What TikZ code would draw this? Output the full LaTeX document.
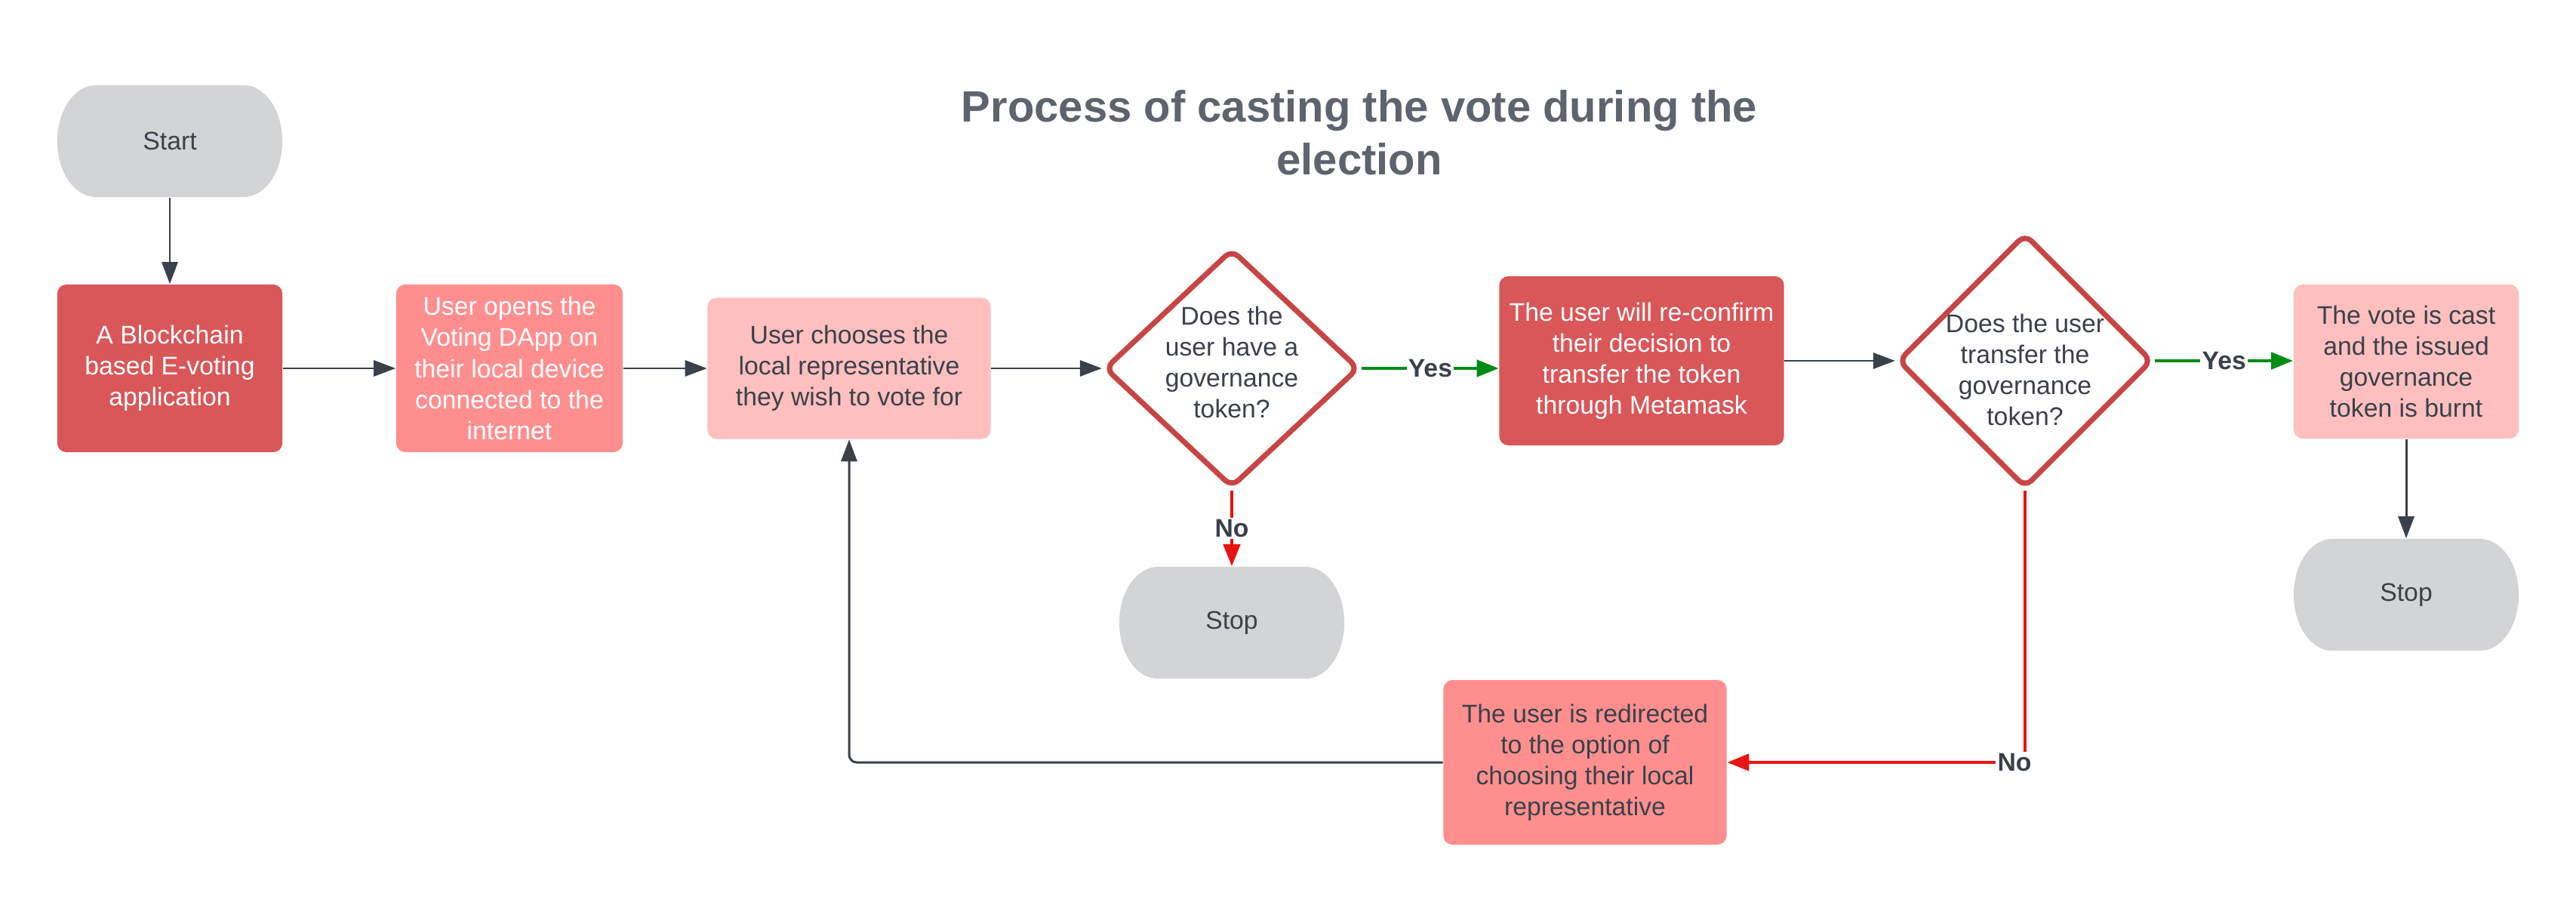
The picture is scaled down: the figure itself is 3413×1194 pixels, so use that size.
\documentclass[tikz,border=0pt]{standalone}
\usepackage{fontspec}
\setmainfont{Liberation Sans}
\usetikzlibrary{shapes.geometric,arrows.meta}
\definecolor{txtdark}{HTML}{3A414A}
\definecolor{titlecol}{HTML}{5E646E}
\definecolor{darkred}{HTML}{D95759}
\definecolor{salmon}{HTML}{FF8F8F}
\definecolor{pink}{HTML}{FFBFBF}
\definecolor{termgray}{HTML}{D3D4D6}
\definecolor{diaborder}{HTML}{C84545}
\definecolor{redline}{HTML}{E81414}
\definecolor{greenline}{HTML}{008C14}
\newcommand\diagfont{\fontsize{9.6pt}{11.7pt}\selectfont}
\begin{document}
\begin{tikzpicture}[x=0.01cm,y=-0.01cm,
  every node/.style={font=\diagfont, align=center, inner sep=0pt},
  term/.style={rectangle, minimum width=2.98cm, minimum height=1.48cm, text=txtdark,
    path picture={\fill[termgray] ([xshift=0.51cm]path picture bounding box.north west)
      -- ([xshift=-0.51cm]path picture bounding box.north east)
      arc[start angle=90,end angle=-90,x radius=0.51cm,y radius=0.74cm]
      -- ([xshift=0.51cm]path picture bounding box.south west)
      arc[start angle=270,end angle=90,x radius=0.51cm,y radius=0.74cm] -- cycle;}},
  procbox/.style={rectangle, rounded corners=0.12cm},
  dia/.style={diamond, draw=diaborder, line width=2pt, fill=white, rounded corners=0.12cm, minimum width=3.37cm},
  conn/.style={draw=txtdark, line width=0.85pt, -{Triangle[length=0.29cm,width=0.21cm]}},
  yesline/.style={draw=greenline, line width=1.3pt, -{Triangle[length=0.29cm,width=0.22cm]}},
  noline/.style={draw=redline, line width=1.3pt, -{Triangle[length=0.29cm,width=0.22cm]}},
  lbl/.style={fill=white, font=\diagfont\bfseries, text=txtdark, inner sep=0.6pt}
]
\useasboundingbox (0,0) rectangle (3413,1194);

% title
\node[font=\fontsize{16.5pt}{19.8pt}\selectfont\bfseries, text=titlecol] (title) at (1801,176)
  {Process of casting the vote during the\\election};

% nodes
\node[term] (start) at (225,187) {Start};
\node[procbox, fill=darkred, text=white, minimum width=2.98cm, minimum height=2.22cm] (app) at (225,488)
  {A Blockchain\\based E-voting\\application};
\node[procbox, fill=salmon, text=white, minimum width=3.00cm, minimum height=2.22cm] (open) at (675,488)
  {User opens the\\Voting DApp on\\their local device\\connected to the\\internet};
\node[procbox, fill=pink, text=txtdark, minimum width=3.75cm, minimum height=1.87cm] (choose) at (1125,488)
  {User chooses the\\local representative\\they wish to vote for};
\node[dia, minimum height=3.16cm] (d1) at (1632,488) {};
\node[text=txtdark] (d1t) at (1632,480) {Does the\\user have a\\governance\\token?};
\node[term] (stop1) at (1632,825) {Stop};
\node[procbox, fill=darkred, text=white, minimum width=3.77cm, minimum height=2.24cm] (confirm) at (2175,478)
  {The user will re-confirm\\their decision to\\transfer the token\\through Metamask};
\node[dia, minimum height=3.37cm] (d2) at (2683,478) {};
\node[text=txtdark] (d2t) at (2683,490) {Does the user\\transfer the\\governance\\token?};
\node[procbox, fill=pink, text=txtdark, minimum width=2.98cm, minimum height=2.04cm] (vote) at (3188,479)
  {The vote is cast\\and the issued\\governance\\token is burnt};
\node[term] (stop2) at (3188,788) {Stop};
\node[procbox, fill=salmon, text=txtdark, minimum width=3.75cm, minimum height=2.18cm] (redir) at (2100,1010)
  {The user is redirected\\to the option of\\choosing their local\\representative};

% connectors
\draw[conn] (start) -- (app);
\draw[conn] (app) -- (open);
\draw[conn] (open) -- (choose);
\draw[conn] (choose) -- (d1);
\draw[yesline] (d1.east) -- node[lbl] {Yes} (confirm.west |- d1.east);
\draw[noline] (d1.south) -- node[lbl] {No} (stop1.north);
\draw[conn] (confirm) -- (d2);
\draw[yesline] (d2.east) -- node[lbl] {Yes} (vote.west |- d2.east);
\draw[conn] (vote) -- (stop2);
\draw[noline] (d2.south) |- node[lbl, xshift=-0.14cm] {No} (redir.east);
\draw[conn, rounded corners=0.1cm] (redir.west) -| (choose.south);
\end{tikzpicture}
\end{document}
